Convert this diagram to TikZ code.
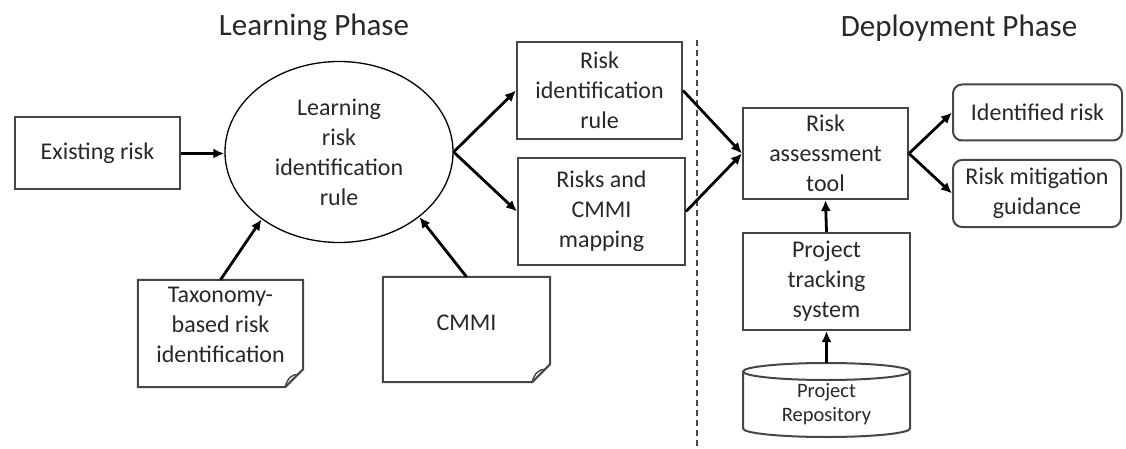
\documentclass[tikz,border=0pt]{standalone}
\usepackage{fontspec}
\setmainfont{Carlito}
\usetikzlibrary{arrows.meta,shapes.geometric}
\definecolor{bordc}{RGB}{70,70,70}
\definecolor{txtc}{RGB}{40,40,40}
\begin{document}
\begin{tikzpicture}[x=1pt,y=-1pt,
  box/.style={draw=bordc,line width=2pt,align=center,inner sep=0pt,font=\fontsize{24}{30}\selectfont,text=txtc},
  plain/.style={align=center,inner sep=0pt,font=\fontsize{24}{30}\selectfont,text=txtc},
  doc/.style={draw=none,inner sep=0pt},
  docline/.style={draw=bordc,line width=2pt,line join=miter},
  curl/.style={draw=bordc,line width=1.4pt},
  arr/.style={draw=black,line width=2.8pt,-{Latex[length=11pt,width=10pt]}},
  divider/.style={draw=bordc,line width=1.8pt,dash pattern=on 6pt off 4pt},
  title/.style={font=\fontsize{31}{34}\selectfont,text=txtc,inner sep=0pt}]
\useasboundingbox (0,0) rectangle (1126,449);

% titles
\node[title] (t1) at (314,27) {Learning Phase};
\node[title] (t2) at (959,28) {Deployment Phase};

% divider
\coordinate (dtop) at (697,40);
\coordinate (dbot) at (697,449);
\draw[divider] (dtop) -- (dbot);

% learning phase
\node[box,minimum width=165pt,minimum height=72pt] (exist) at (97.5,153.5) {Existing risk};
\node[ellipse,draw=black,line width=1.3pt,minimum width=228pt,minimum height=181pt,plain] (ell) at (339,152) {Learning\\risk\\identification\\rule};
\node[box,minimum width=165pt,minimum height=97pt] (rir) at (599.5,90.5) {Risk\\identification\\rule};
\node[box,minimum width=167pt,minimum height=107pt] (rcm) at (601.5,211.5) {Risks and\\CMMI\\mapping};

% documents
\node[doc,minimum width=165pt,minimum height=107pt] (tax) at (220.5,333.5) {};
\draw[docline] (tax.north west) -- (tax.north east) -- ([yshift=18pt]tax.south east) -- ([xshift=-18pt]tax.south east) -- (tax.south west) -- cycle;
\draw[curl] ([xshift=-18pt]tax.south east) .. controls ([xshift=-16pt,yshift=9pt]tax.south east) and ([xshift=-11pt,yshift=13pt]tax.south east) .. ([xshift=-5pt,yshift=13pt]tax.south east);
\node[plain] (taxt) at ([yshift=8.5pt]tax.center) {Taxonomy-\\based risk\\identification};

\node[doc,minimum width=167pt,minimum height=105pt] (cmmi) at (466.5,329.5) {};
\draw[docline] (cmmi.north west) -- (cmmi.north east) -- ([yshift=18pt]cmmi.south east) -- ([xshift=-18pt]cmmi.south east) -- (cmmi.south west) -- cycle;
\draw[curl] ([xshift=-18pt]cmmi.south east) .. controls ([xshift=-16pt,yshift=9pt]cmmi.south east) and ([xshift=-11pt,yshift=13pt]cmmi.south east) .. ([xshift=-5pt,yshift=13pt]cmmi.south east);
\node[plain] (cmmit) at ([yshift=6.5pt]cmmi.center) {CMMI};

% deployment phase
\node[box,minimum width=165pt,minimum height=91pt] (rat) at (825.5,153.5) {Risk\\assessment\\tool};
\node[box,rounded corners=9pt,minimum width=169pt,minimum height=56pt] (idr) at (1037.5,112.5) {Identified risk};
\node[box,rounded corners=9pt,minimum width=168pt,minimum height=67pt] (rmg) at (1037,193.5) {Risk mitigation\\guidance};
\node[box,minimum width=167pt,minimum height=97pt] (pts) at (826.5,281.5) {Project\\tracking\\system};

% repository cylinder
\draw[draw=bordc,line width=2pt] (743,371.5) -- (743,428.5) arc[start angle=180,end angle=360,x radius=83.5pt,y radius=8.5pt] -- (910,371.5);
\draw[draw=bordc,line width=2pt] (826.5,371.5) ellipse[x radius=83.5pt,y radius=8.5pt];
\node[plain,font=\fontsize{20.5}{24}\selectfont,minimum width=167pt,minimum height=82pt] (repo) at (826.5,404) {Project\\Repository};

% arrows
\draw[arr] (exist.east) -- (ell.west |- exist.east);
\draw[arr] (ell.east) -- (rir.west);
\draw[arr] (ell.east) -- (rcm.west);
\draw[arr] (tax.north) -- (ell.221);
\draw[arr] (cmmi.north) -- (ell.-39);
\draw[arr] (rir.east) -- (rat.west);
\draw[arr] (rcm.east) -- (rat.west);
\draw[arr] (rat.east) -- (idr.west);
\draw[arr] (rat.east) -- (rmg.west);
\draw[arr] (pts.north) -- (rat.south);
\draw[arr] (repo.north) -- (pts.south);
\end{tikzpicture}
\end{document}
